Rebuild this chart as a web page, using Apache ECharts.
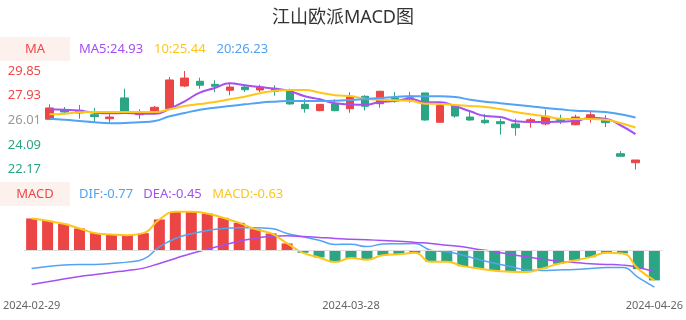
<!DOCTYPE html>
<html><head><meta charset="utf-8">
<script src="https://cdn.jsdelivr.net/npm/echarts@6/dist/echarts.min.js"></script>
<style>html,body{margin:0;padding:0;background:#fff}#c{width:686px;height:320px}</style>
</head><body><div id="c"></div>
<script>
const dates = ['2024-02-29','2024-03-01','2024-03-04','2024-03-05','2024-03-06','2024-03-07','2024-03-08',
'2024-03-11','2024-03-12','2024-03-13','2024-03-14','2024-03-15','2024-03-18','2024-03-19','2024-03-20','2024-03-21','2024-03-22',
'2024-03-25','2024-03-26','2024-03-27','2024-03-28','2024-03-29','2024-04-01','2024-04-02','2024-04-03',
'2024-04-08','2024-04-09','2024-04-10','2024-04-11','2024-04-12','2024-04-15','2024-04-16','2024-04-17','2024-04-18','2024-04-19',
'2024-04-22','2024-04-23','2024-04-24','2024-04-25','2024-04-26'];
const openP  = [26.09,26.83,26.79,26.44,26.13,27.75,26.44,26.65,26.91,28.68,29.05,28.81,28.35,28.60,28.37,28.50,28.27,27.25,26.76,27.28,26.91,27.88,27.30,27.75,27.80,28.14,25.85,27.15,26.26,26.01,25.90,25.72,25.87,25.72,26.09,25.66,26.19,26.01,23.40,22.70];
const closeP = [26.97,26.65,26.58,26.29,26.26,26.58,26.60,27.02,29.15,29.30,28.74,28.66,28.60,28.39,28.58,28.27,27.28,26.91,27.25,26.76,27.85,27.10,28.27,27.65,27.88,26.03,27.15,26.34,26.03,25.82,25.74,25.43,26.05,26.32,25.98,26.26,26.44,25.82,23.20,22.91];
const lowP   = [26.01,26.47,26.13,25.87,25.80,26.52,26.13,26.65,26.88,28.60,28.47,28.21,27.96,28.21,28.21,27.93,27.22,26.60,26.71,26.71,26.60,26.76,26.99,27.38,27.38,25.98,25.85,26.21,25.98,25.70,24.89,24.81,25.43,25.62,25.72,25.62,25.82,25.48,23.20,22.17];
const highP  = [27.25,27.04,27.20,26.97,26.52,28.47,26.86,27.12,29.38,29.85,29.33,29.13,28.94,28.74,28.78,28.74,28.47,27.69,27.28,27.64,28.20,27.96,28.31,28.20,28.21,28.14,27.15,27.15,26.65,26.50,26.13,26.13,26.19,26.83,26.44,26.44,26.79,26.40,23.61,22.91];
const ma5  = [26.86,26.83,26.76,26.60,26.55,26.58,26.52,26.52,26.91,27.49,28.16,28.52,28.89,28.74,28.60,28.47,28.27,27.88,27.64,27.33,27.25,27.22,27.43,27.51,27.69,27.41,27.41,27.10,26.71,26.34,26.27,25.93,25.87,25.87,25.90,25.95,26.21,26.13,25.62,24.93];
const ma10 = [26.47,26.52,26.63,26.65,26.65,26.65,26.65,26.65,26.86,27.12,27.28,27.43,27.64,27.85,28.11,28.31,28.37,28.37,28.16,27.96,27.90,27.69,27.61,27.56,27.53,27.30,27.28,27.20,27.12,27.04,26.88,26.65,26.47,26.32,26.13,26.11,26.11,26.05,25.80,25.44];
const ma20 = [26.13,26.05,25.95,25.85,25.77,25.80,25.85,25.95,26.32,26.58,26.83,26.99,27.12,27.25,27.38,27.46,27.51,27.51,27.51,27.53,27.59,27.67,27.75,27.82,27.88,27.88,27.88,27.82,27.61,27.46,27.34,27.22,27.10,26.97,26.86,26.76,26.71,26.65,26.47,26.23];
const dif  = [-0.378,-0.336,-0.309,-0.294,-0.294,-0.273,-0.246,-0.183,0.076,0.252,0.349,0.420,0.462,0.475,0.475,0.462,0.357,0.286,0.216,0.126,0.130,0.080,0.135,0.140,0.145,0.006,-0.030,-0.100,-0.190,-0.270,-0.340,-0.410,-0.420,-0.410,-0.400,-0.380,-0.360,-0.360,-0.570,-0.770];
const dea  = [-0.714,-0.660,-0.603,-0.546,-0.504,-0.462,-0.420,-0.372,-0.273,-0.168,-0.063,0.027,0.111,0.195,0.252,0.300,0.307,0.294,0.273,0.252,0.237,0.223,0.210,0.195,0.168,0.147,0.111,0.076,0.021,-0.029,-0.084,-0.134,-0.183,-0.225,-0.252,-0.280,-0.294,-0.309,-0.357,-0.450];
const macd = [0.672,0.622,0.559,0.462,0.363,0.336,0.321,0.363,0.651,0.811,0.811,0.777,0.685,0.580,0.447,0.357,0.147,-0.050,-0.147,-0.245,-0.160,-0.195,-0.099,-0.080,-0.050,-0.240,-0.240,-0.330,-0.378,-0.428,-0.449,-0.456,-0.378,-0.280,-0.210,-0.141,-0.050,-0.063,-0.393,-0.630];
const priceTicks = [22.17,24.09,26.01,27.93,29.85];
const baseline = 26.01;
const labelDates = ['2024-02-29','2024-03-28','2024-04-26'];
const titleText = '江山欧派MACD图';

const FONT = '"Noto Sans", "Noto Sans CJK SC", sans-serif';
const RED = '#EB4545', GREEN = '#2BA584', PURPLE = '#A64FF3', YELLOW = '#FFC61A', BLUE = '#52A3F3';
const candles = dates.map((d, i) => [openP[i], closeP[i], lowP[i], highP[i]]);
const last = a => a[a.length - 1].toFixed(2);
const txt = (x, y, text, fill, extra) => ({type: 'text', x, y,
  style: Object.assign({text, fill, fontSize: 13, fontFamily: FONT, verticalAlign: 'middle'}, extra || {})});

const chart = echarts.init(document.getElementById('c'), null, {renderer: 'canvas'});
chart.setOption({
  animation: false,
  backgroundColor: '#fff',
  textStyle: {fontFamily: FONT},
  title: {text: titleText, left: 'center', top: 4, textStyle: {fontSize: 18, fontWeight: 'normal', color: '#333', fontFamily: FONT}},
  graphic: [
    {type: 'rect', left: 0, top: 37, shape: {width: 70, height: 24}, style: {fill: '#FDF1ED'}},
    txt(35, 49, 'MA', '#F04848', {align: 'center'}),
    txt(79, 49, 'MA5:' + last(ma5), PURPLE),
    txt(154, 49, '10:' + last(ma10), YELLOW),
    txt(216.5, 49, '20:' + last(ma20), BLUE),
    {type: 'rect', left: 0, top: 182, shape: {width: 70, height: 24}, style: {fill: '#FDF1ED'}},
    txt(35, 194, 'MACD', '#F04848', {align: 'center'}),
    txt(79, 194, 'DIF:' + last(dif), BLUE),
    txt(143.3, 194, 'DEA:' + last(dea), PURPLE),
    txt(212.3, 194, 'MACD:' + last(macd), YELLOW)
  ],
  grid: [
    {left: 42, right: 43, top: 71, height: 98.5},
    {left: 20, right: 20, top: 210, height: 78}
  ],
  xAxis: [
    {type: 'category', data: dates, gridIndex: 0, boundaryGap: true, show: false},
    {type: 'category', data: dates, gridIndex: 1, boundaryGap: true,
     axisLine: {show: false}, axisTick: {show: false}, splitLine: {show: false},
     axisLabel: {interval: (i, v) => labelDates.includes(v), color: '#666', fontSize: 11, margin: 12, fontFamily: FONT}}
  ],
  yAxis: [
    {type: 'value', gridIndex: 0, min: priceTicks[0], max: priceTicks[priceTicks.length - 1], interval: 1.92,
     splitLine: {show: false}, axisLine: {show: false}, axisTick: {show: false},
     axisLabel: {margin: 1, fontSize: 13, fontFamily: FONT, formatter: v => v.toFixed(2),
       color: v => Math.abs(v - baseline) < 0.005 ? '#999' : (v > baseline ? '#F04848' : GREEN)}},
    {type: 'value', gridIndex: 1, min: -0.79, max: 0.85, show: false, splitLine: {show: false}}
  ],
  series: [
    {type: 'candlestick', xAxisIndex: 0, yAxisIndex: 0, data: candles, barWidth: 8,
     itemStyle: {color: RED, color0: GREEN, borderColor: RED, borderColor0: GREEN, borderWidth: 1}},
    {type: 'line', data: ma5, xAxisIndex: 0, yAxisIndex: 0, smooth: true, showSymbol: false, lineStyle: {color: PURPLE, width: 2}},
    {type: 'line', data: ma10, xAxisIndex: 0, yAxisIndex: 0, smooth: true, showSymbol: false, lineStyle: {color: YELLOW, width: 2}},
    {type: 'line', data: ma20, xAxisIndex: 0, yAxisIndex: 0, smooth: true, showSymbol: false, lineStyle: {color: BLUE, width: 2}},
    {type: 'bar', data: macd, xAxisIndex: 1, yAxisIndex: 1, barWidth: 11,
     itemStyle: {color: p => p.value >= 0 ? RED : GREEN},
     markLine: {silent: true, symbol: 'none', label: {show: false}, lineStyle: {color: '#ddd', type: 'solid', width: 1}, data: [{yAxis: 0}]}},
    {type: 'line', data: dif, xAxisIndex: 1, yAxisIndex: 1, smooth: true, showSymbol: false, lineStyle: {color: BLUE, width: 1.5}},
    {type: 'line', data: dea, xAxisIndex: 1, yAxisIndex: 1, smooth: true, showSymbol: false, lineStyle: {color: PURPLE, width: 1.5}},
    {type: 'line', data: macd, xAxisIndex: 1, yAxisIndex: 1, smooth: true, showSymbol: false, lineStyle: {color: YELLOW, width: 2}}
  ]
});
</script>
</body></html>
